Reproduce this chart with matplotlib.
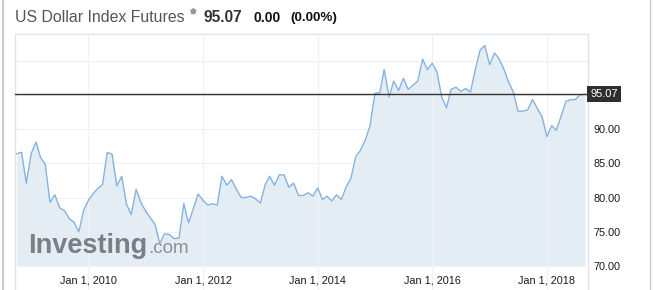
import datetime as dt
import pandas as pd
import matplotlib
matplotlib.use("Agg")
import matplotlib.pyplot as plt
from matplotlib.lines import Line2D
from matplotlib.transforms import blended_transform_factory

plt.rcParams.update({
    "font.family": ["Liberation Sans", "DejaVu Sans"],
    "figure.facecolor": "white",
})

# monthly closes, Oct 2008 .. Sep 2018
dates = pd.date_range("2008-10-01", periods=120, freq="MS")
values = [
    86.4, 86.6, 82.1, 86.4, 88.1, 85.9, 84.8, 79.3, 80.4, 78.5,
    78.1, 76.9, 76.4, 75.0, 78.1, 79.6, 80.6, 81.3, 81.9, 86.6,
    86.3, 81.7, 83.1, 79.0, 77.5, 81.2, 79.3, 78.0, 77.0, 76.1,
    73.3, 74.7, 74.6, 74.0, 74.1, 79.1, 76.3, 78.4, 80.5, 79.6,
    78.9, 79.1, 78.9, 83.1, 81.8, 82.6, 81.2, 80.0, 80.0, 80.2,
    79.8, 79.2, 81.9, 83.1, 81.8, 83.3, 83.3, 81.5, 82.1, 80.3,
    80.3, 80.7, 80.2, 81.4, 79.7, 80.2, 79.5, 80.4, 79.7, 81.5,
    82.8, 86.0, 86.9, 88.4, 90.5, 95.2, 95.3, 98.7, 94.7, 97.0,
    95.6, 97.4, 95.8, 96.4, 97.0, 100.2, 98.7, 99.6, 98.3, 94.7,
    93.1, 95.8, 96.1, 95.5, 95.9, 95.4, 98.6, 101.5, 102.2, 99.4,
    101.1, 100.3, 98.8, 96.9, 95.4, 92.6, 92.6, 92.8, 94.3, 93.0,
    91.8, 88.9, 90.5, 89.8, 91.8, 94.0, 94.3, 94.3, 95.0, 95.07,
]
last_price = 95.07
x_tick_years = [2010, 2012, 2014, 2016, 2018]
y_ticks = [70, 75, 80, 85, 90]
y_grid = [75, 80, 85, 90, 95, 100]

W, H = 655, 290
fig = plt.figure(figsize=(W / 100, H / 100), dpi=100)
ax = fig.add_axes([15 / W, 0, (588 - 15) / W, (290 - 34) / H])

ax.fill_between(dates, values, 70, color="#e4edf4", lw=0, zorder=1)
ax.plot(dates, values, color="#86b2df", lw=1.0, zorder=3)
ax.axhline(last_price, color="#333333", lw=1.0, zorder=4)

for g in y_grid:
    ax.axhline(g, color="#eef1f5", lw=0.8, zorder=0)

ax.set_xlim(dt.datetime(2008, 9, 20), dt.datetime(2018, 9, 20))
ax.set_ylim(66.5, 103.87)

xt = [dt.datetime(y, 1, 1) for y in x_tick_years]
ax.set_xticks(xt)
ax.set_xticklabels([f"Jan 1, {y}" for y in x_tick_years])
ax.tick_params(axis="x", length=0, pad=-10.5, labelsize=7.8, labelcolor="#1a1a1a")
ax.grid(axis="x", color="#eef1f5", lw=0.8, zorder=0)

ax.yaxis.tick_right()
ax.set_yticks(y_ticks)
ax.set_yticklabels([f"{v:.2f}" for v in y_ticks])
ax.tick_params(axis="y", length=0, pad=4, labelsize=7.8, labelcolor="#1a1a1a")

for s in ["left", "top", "right"]:
    ax.spines[s].set_color("#dfe3ea")
    ax.spines[s].set_linewidth(1.0)
ax.spines["bottom"].set_visible(False)

# last price tag
tr = blended_transform_factory(ax.transAxes, ax.transData)
ax.text(1.004, last_price, "95.07", transform=tr, ha="left", va="center",
        fontsize=8, color="white", zorder=6,
        bbox=dict(boxstyle="square,pad=0.28", fc="#2e2e2e", ec="none"))

# watermark, drawn under the price line
ax.text(28 / W, 1 - 253 / H, "Investing", transform=fig.transFigure,
        fontsize=19.5, fontweight="bold", color="#7b7e84",
        ha="left", va="baseline", zorder=2)
ax.text(148 / W, 1 - 253 / H, ".com", transform=fig.transFigure,
        fontsize=13.5, color="#8d9096", ha="left", va="baseline", zorder=2)

# header
fig.text(15 / W, 1 - 18 / H, "US Dollar Index Futures", fontsize=11.4,
         color="#555555", ha="left", va="center")
fig.text(190 / W, 1 - 11 / H, "⬟", fontsize=5.5, color="#999999",
         ha="left", va="center", family="DejaVu Sans")
fig.text(203 / W, 1 - 18 / H, "95.07", fontsize=11.2, fontweight="bold",
         color="#333333", ha="left", va="center")
fig.text(253 / W, 1 - 18 / H, "0.00", fontsize=10, fontweight="bold",
         color="#111111", ha="left", va="center")
fig.text(290 / W, 1 - 18 / H, "(0.00%)", fontsize=9.7, fontweight="bold",
         color="#111111", ha="left", va="center")

# page frame lines
fig.add_artist(Line2D([2.5 / W, 2.5 / W], [0, 1], color="#cccccc", lw=1.5))
fig.add_artist(Line2D([650 / W, 650 / W], [0, 1], color="#cccccc", lw=1.0))

fig.savefig("out.png", dpi=100)
